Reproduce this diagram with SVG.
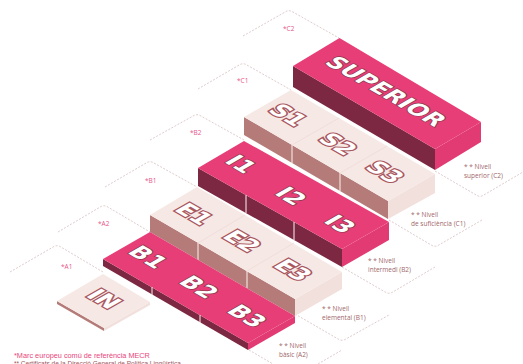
<svg xmlns="http://www.w3.org/2000/svg" width="523" height="364" viewBox="0 0 523 364">
<style>
.d{fill:none;stroke:#d3b4b4;stroke-width:.7;stroke-dasharray:2 1.5}
.a{font:6.500px "Open Sans",sans-serif;fill:#e8558a}
.n{font:6.500px "Open Sans",sans-serif;fill:#a0676a}
.pt{fill:#e83e77}.pd{fill:#7d2842}.pr{fill:#e23b74}
.lt{fill:#f6e8e5}.ld{fill:#b47b79}.lr{fill:#f2e0dd}
.div{stroke:#fbf3f1;stroke-width:1;fill:none}
.dt{stroke:#f0dedb;stroke-width:1;fill:none}
.lab{font-family:"DejaVu Sans",sans-serif;font-weight:700;font-size:23px;fill:#fff;stroke:#8a3a4c;stroke-width:1.800;paint-order:stroke;text-anchor:middle;dominant-baseline:central}
.sl{stroke:#a8575f;stroke-width:3}
</style>
<rect width="523" height="364" fill="#fff"/>
<g id="connectors">
<path class="d" d="M10 272L54 246.500Q57 245 60 246.500L103 272"/>
<path class="d" d="M58 232L101 206.500Q104 205 107 206.500L150 232"/>
<path class="d" d="M105 187L147 162.500Q150 161 153 162.500L197 187"/>
<path class="d" d="M150 140L194 115.500Q197 114 200 115.500L244 140"/>
<path class="d" d="M198 89L240 64.500Q243 63 246 64.500L291 90"/>
<path class="d" d="M243 36L286 11.500Q289 10 292 11.500L339 38"/>
<path class="d" d="M435 171L477 195.500Q480 197 483 195.500L523 172"/>
<path class="d" d="M389 220L432 245.500Q435 247 438 245.500L482 220"/>
<path class="d" d="M342 267L386 292.500Q389 294 392 292.500L435 267"/>
<path class="d" d="M295 314L339 339.500Q342 341 345 339.500L389 315"/>
<path class="d" d="M249 350L273 364M318 364L342 350"/>
</g>
<g id="level-c2">
<path class="pd" d="M293 66L435 149V170L293 87Z"/>
<path class="pr" d="M435 149L481 122V142L435 170Z"/>
<path class="pt" d="M339.500 38L481 122L435 149L293 66Z"/>
<text class="lab" transform="matrix(.866 .5 -.866 .5 386 91)" style="font-size:22.500px">SUPERIOR</text>
</g>
<g id="level-c1">
<path class="ld" d="M244 117L388 201V219L244 135Z"/>
<path class="lr" d="M388 201L435 174V193L388 219Z"/>
<path class="lt" d="M244 117L291 90L435 174L388 201Z"/>
<path class="dt" d="M292 145L339 118M340 173L387 146"/>
<path class="div" d="M292 145V163M340 173V191"/>
<text class="lab sl" transform="matrix(.866 .5 -.866 .5 288 115)">S1</text>
<text class="lab sl" transform="matrix(.866 .5 -.866 .5 338 144)">S2</text>
<text class="lab sl" transform="matrix(.866 .5 -.866 .5 385 172)">S3</text>
</g>
<g id="level-b2">
<path class="pd" d="M198 168L342 249V267L198 186Z"/>
<path class="pr" d="M342 249L389 222V240L342 267Z"/>
<path class="pt" d="M198 168L244 141L389 222L342 249Z"/>
<path class="div" d="M246 195V213M294 222V240"/>
<text class="lab" transform="matrix(.866 .5 -.866 .5 241 164)">I1</text>
<text class="lab" transform="matrix(.866 .5 -.866 .5 291 196)">I2</text>
<text class="lab" transform="matrix(.866 .5 -.866 .5 340 224)">I3</text>
</g>
<g id="level-b1">
<path class="ld" d="M150 215L295 299V316L150 232Z"/>
<path class="lr" d="M295 299L342 272V289L295 316Z"/>
<path class="lt" d="M150 215L197 187L342 272L295 299Z"/>
<path class="dt" d="M198 243L245 215M247 271L294 243"/>
<path class="div" d="M198 243V260M247 271V288"/>
<text class="lab sl" transform="matrix(.866 .5 -.866 .5 194 214)">E1</text>
<text class="lab sl" transform="matrix(.866 .5 -.866 .5 242 241)">E2</text>
<text class="lab sl" transform="matrix(.866 .5 -.866 .5 293 270)">E3</text>
</g>
<g id="level-a2">
<path class="pd" d="M103 259L248 343V350L103 266Z"/>
<path class="pr" d="M248 343L295 316V323L248 350Z"/>
<path class="pt" d="M103 259L150 232L295 316L248 343Z"/>
<path class="div" d="M152 287V295M200 315V323"/>
<text class="lab" transform="matrix(.866 .5 -.866 .5 148 257)">B1</text>
<text class="lab" transform="matrix(.866 .5 -.866 .5 199 287)">B2</text>
<text class="lab" transform="matrix(.866 .5 -.866 .5 247 316)">B3</text>
</g>
<g id="level-a1">
<path class="ld" d="M57 301L104 328V331L57 304Z"/>
<path class="lr" d="M104 328L150 302V305L104 331Z"/>
<path class="lt" d="M57 301L103 274L150 302L104 328Z"/>
<text class="lab sl" transform="matrix(.866 .5 -.866 .5 104 299)">IN</text>
</g>
<g id="labels">
<text class="a" x="283" y="31">*C2</text>
<text class="a" x="237" y="83">*C1</text>
<text class="a" x="190" y="135">*B2</text>
<text class="a" x="145" y="183">*B1</text>
<text class="a" x="98" y="226">*A2</text>
<text class="a" x="61" y="269">*A1</text>
<text class="n" x="464" y="169">* * Nivell</text><text class="n" x="464" y="178">superior (C2)</text>
<text class="n" x="411" y="217">* * Nivell</text><text class="n" x="411" y="226">de suficiència (C1)</text>
<text class="n" x="368" y="263">* * Nivell</text><text class="n" x="368" y="272">intermedi (B2)</text>
<text class="n" x="322" y="311">* * Nivell</text><text class="n" x="322" y="320">elemental (B1)</text>
<text class="n" x="279" y="348">* * Nivell</text><text class="n" x="279" y="357">bàsic (A2)</text>
<text x="14" y="358" font-family="Liberation Sans,sans-serif" font-size="7.300" fill="#e8467c">*Marc europeu comú de referència MECR</text>
<text x="14" y="366" font-family="Liberation Sans,sans-serif" font-size="6.500" fill="#a0575f">** Certificats de la Direcció General de Política Lingüística</text>
</g>
</svg>
